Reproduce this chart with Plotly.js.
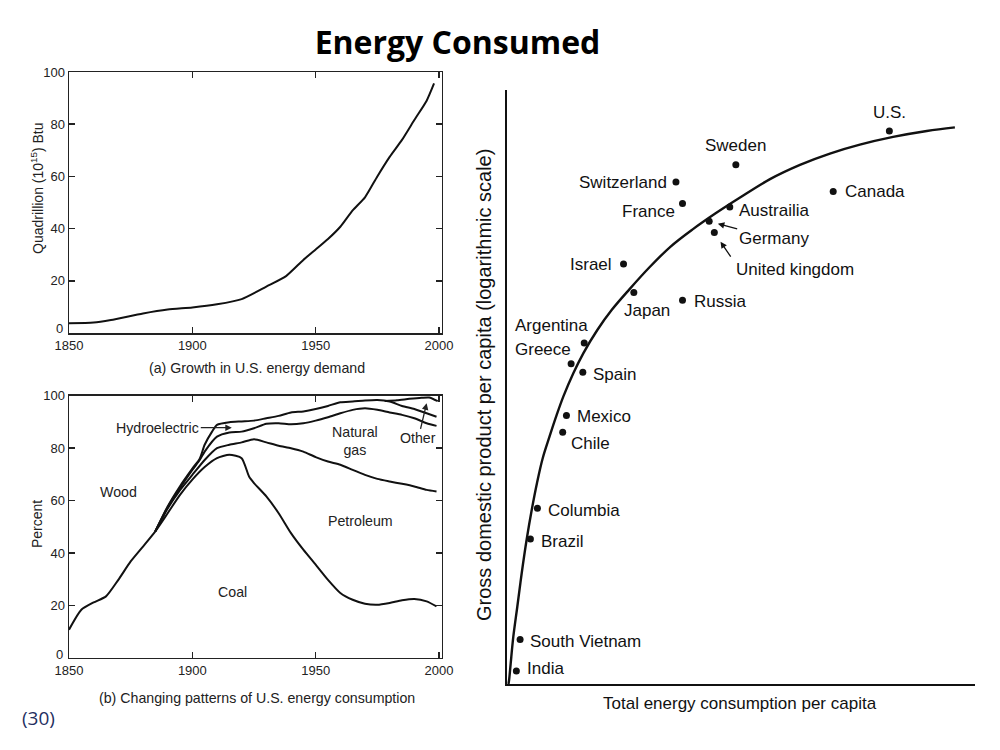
<!DOCTYPE html>
<html>
<head>
<meta charset="utf-8">
<script src="https://cdn.plot.ly/plotly-3.0.1.min.js"></script>
<style>html,body{margin:0;padding:0;background:#fff;}#chart{width:1000px;height:750px;}</style>
</head>
<body>
<div id="chart"></div>
<script>
// ---------- (a) Growth in U.S. energy demand ----------
const demandYears = [1850,1860,1867,1880,1890,1900,1910,1920,1930,1938,1945,1950,1955,1960,1965,1970,1975,1980,1985,1990,1995,1998];
const demandQuads = [3.7,4,5,7.5,9,9.8,11,13,17.8,21.8,28,32,36,40.7,47,52,60,67.5,74,81.6,89,95.6];

// ---------- (b) Changing patterns of U.S. energy consumption (cumulative %) ----------
const coalYears = [1850,1855,1860,1865,1870,1875,1880,1885,1890,1895,1900,1905,1910,1915,1920,1923,1925,1930,1935,1940,1945,1950,1955,1960,1965,1970,1975,1980,1985,1990,1995,1999];
const coalTop   = [10.8,18.4,21.2,23.5,29.8,36.8,42.5,48.3,55.2,62.2,68,72.8,76.2,77.5,76.2,69.2,66.7,61.6,55.2,47.6,41.3,35.6,29.8,24.8,22.2,20.7,20.3,21,22,22.5,21.6,19.7];
const petYears  = [1885,1890,1895,1900,1905,1910,1915,1920,1925,1930,1935,1940,1945,1950,1955,1960,1965,1970,1975,1980,1985,1990,1995,1999];
const petTop    = [48.3,57,64,69.8,75.5,80,81.3,82.2,83.4,82.2,80.9,80,78.7,76.6,74.9,73.7,71.7,69.8,68.3,67.3,66.4,65.4,64.1,63.5];
const gasYears  = [1885,1890,1895,1900,1903,1905,1910,1915,1920,1925,1930,1935,1940,1945,1950,1955,1960,1965,1970,1975,1980,1985,1990,1995,1999];
const gasTop    = [48.3,57.5,64.8,71.7,75.5,78.7,84.4,86,86.3,87.6,89.3,89.5,89.1,89.5,90.5,91.8,93.3,94.6,95.2,94.6,93.6,92.7,91.4,89.5,88.5];
const hydroYears= [1885,1890,1895,1900,1903,1905,1908,1910,1915,1920,1925,1930,1935,1940,1945,1950,1955,1960,1965,1970,1975,1980,1985,1990,1995,1999];
const hydroTop  = [48.3,57.8,65.5,72.2,76,81.3,86.3,88.9,89.9,90.2,90.5,91.4,92.3,93.6,94,94.9,96.1,97.5,97.8,98.2,98.4,97.8,96.1,94.9,93.3,92];
const otherYears= [1978,1983,1988,1993,1996,1999.5];
const otherTop  = [98,98.3,98.8,99.2,99.3,97.9];
const yTicks = [20,40,60,80,100];

// ---------- Right: GDP vs energy per capita (arbitrary units) ----------
const countries = ["U.S.","Sweden","Switzerland","France","Canada","Austrailia","Germany","United kingdom","Israel","Japan","Russia","Argentina","Greece","Spain","Mexico","Chile","Columbia","Brazil","South Vietnam","India"];
const energyPC  = [81.7,48.9,36.1,37.5,69.7,47.6,43.2,44.3,24.9,27.1,37.5,16.5,13.7,16.2,12.7,11.9,6.5,5.0,2.8,2.0];
const gdpPC     = [93.1,87.4,84.5,80.9,82.9,80.3,77.9,76.0,70.7,65.9,64.6,57.4,53.9,52.5,45.2,42.4,29.6,24.4,7.5,2.2];
const trendEnergy = [0.32,0.49,0.79,1.35,2.20,3.14,4.21,5.28,6.41,7.63,9.08,10.62,12.03,14.17,16.30,19.3,22.4,26.1,30.5,34.9,39.6,44.5,49.8,56.2,62.6,69.0,75.4,82.5,89.7,95.7];
const trendGdp    = [0,0.96,3.48,7.96,13.01,18.64,24.36,29.29,33.84,38.0,41.63,45.29,48.37,52.31,55.67,59.6,63.0,66.4,70.2,73.6,76.5,79.2,81.9,85.0,87.4,89.3,90.8,92.1,93.1,93.7];

// label placement (pixel offsets from dot: dx right, dy down; anchor)
const labelPlace = {
  "U.S.":[0,-18,"center"], "Sweden":[0,-19,"center"], "Switzerland":[-7,0,"right"],
  "France":[-6,8.5,"right"], "Canada":[9.5,0,"left"], "Austrailia":[7,3,"left"],
  "Israel":[-9.5,0,"right"],
  "Japan":[13.3,18.4,"center"], "Russia":[9.3,1.7,"left"], "Argentina":[-71,-17.3,"left"],
  "Greece":[-58,-14.4,"left"], "Spain":[8,2,"left"], "Mexico":[8.7,1,"left"], "Chile":[6.6,11,"left"],
  "Columbia":[8.7,2,"left"], "Brazil":[8.7,2.4,"left"], "South Vietnam":[8.3,2.4,"left"], "India":[8.7,-2.7,"left"]
};

const LINE = {color:'#111', width:2, shape:'spline', smoothing:0.6};
const traces = [
  {x:demandYears, y:demandQuads, xaxis:'x', yaxis:'y', mode:'lines', line:LINE},
  {x:coalYears, y:coalTop, xaxis:'x2', yaxis:'y2', mode:'lines', line:LINE},
  {x:petYears, y:petTop, xaxis:'x2', yaxis:'y2', mode:'lines', line:LINE},
  {x:gasYears, y:gasTop, xaxis:'x2', yaxis:'y2', mode:'lines', line:LINE},
  {x:hydroYears, y:hydroTop, xaxis:'x2', yaxis:'y2', mode:'lines', line:LINE},
  {x:otherYears, y:otherTop, xaxis:'x2', yaxis:'y2', mode:'lines', line:LINE},
  {x:trendEnergy, y:trendGdp, xaxis:'x3', yaxis:'y3', mode:'lines', line:{color:'#111', width:2.4, shape:'spline', smoothing:1}},
  {x:energyPC, y:gdpPC, xaxis:'x3', yaxis:'y3', mode:'markers', marker:{color:'#111', size:7}, text:countries, hoverinfo:'text'}
];

const F = 'Liberation Sans, Arial, sans-serif';
const tickFont = {family:F, size:13, color:'#222'};
const lblFont = {family:F, size:14.2, color:'#222'};
const ctyFont = {family:F, size:17, color:'#111'};
function boxAxisX(domain, anchor){
  return {domain:domain, anchor:anchor, range:[1850,2001.1], tickvals:[1850,1900,1950,2000], ticktext:['1850','1900','1950','2000'],
    ticks:'inside', ticklen:6, tickwidth:1.5, tickcolor:'#222', showline:true, linecolor:'#222', linewidth:1.5,
    mirror:'ticks', showgrid:false, zeroline:false, tickfont:tickFont, fixedrange:true};
}
function boxAxisY(domain, anchor){
  return {domain:domain, anchor:anchor, range:[0,100], tickvals:yTicks,
    ticks:'inside', ticklen:6, tickwidth:1.5, tickcolor:'#222', showline:true, linecolor:'#222', linewidth:1.5,
    mirror:'ticks', showgrid:false, zeroline:false, tickfont:tickFont, fixedrange:true};
}
function pp(px,py){ return {x:px/1000, y:1-py/750}; }
function ptext(text, px, py, opts){
  const p = pp(px,py);
  return Object.assign({xref:'paper', yref:'paper', x:p.x, y:p.y, text:text, showarrow:false,
    xanchor:'center', yanchor:'middle', font:lblFont}, opts||{});
}

const annotations = [
  ptext('(a) Growth in U.S. energy demand', 257, 368),
  ptext('(b) Changing patterns of U.S. energy consumption', 257, 698),
  ptext('Quadrillion (10<sup>15</sup>) Btu', 37, 188, {textangle:-90, font:{family:F, size:14, color:'#222'}}),
  ptext('Percent', 37, 524, {textangle:-90, font:{family:F, size:14, color:'#222'}}),
  ptext('Gross domestic product per capita (logarithmic scale)', 484, 385, {textangle:-90, font:{family:F, size:20, color:'#111'}}),
  ptext('Total energy consumption per capita', 740, 703, {font:{family:F, size:17, color:'#111'}}),
  ptext('(30)', 38, 718, {font:{family:'Open Sans, Lato, sans-serif', size:19, color:'#1f2f5f'}}),
  // the "0" tick label of both left panels sits slightly above the corner
  {xref:'x', yref:'y', x:1850, y:0, text:'0', showarrow:false, xanchor:'right', yanchor:'middle', xshift:-4, yshift:5, font:tickFont},
  {xref:'x2', yref:'y2', x:1850, y:0, text:'0', showarrow:false, xanchor:'right', yanchor:'middle', xshift:-4, yshift:4, font:tickFont},
  // region labels in (b)
  {xref:'x2', yref:'y2', x:1869.9, y:63.3, text:'Wood', showarrow:false, font:lblFont},
  {xref:'x2', yref:'y2', x:1968, y:52.2, text:'Petroleum', showarrow:false, font:lblFont},
  {xref:'x2', yref:'y2', x:1916.1, y:25.2, text:'Coal', showarrow:false, font:lblFont},
  {xref:'x2', yref:'y2', x:1966, y:82.7, text:'Natural<br>gas', showarrow:false, font:lblFont},
  {xref:'x2', yref:'y2', x:1995, y:97.1, text:'Other', showarrow:true, ax:-8.4, ay:35, xanchor:'center',
    arrowhead:2, arrowsize:1, arrowwidth:1.3, arrowcolor:'#222', font:lblFont},
  {xref:'x2', yref:'y2', x:1916, y:87.8, text:'Hydroelectric', showarrow:true, ax:-74, ay:0, xanchor:'center',
    arrowhead:2, arrowsize:1, arrowwidth:1.3, arrowcolor:'#222', font:lblFont}
];

// country labels
countries.forEach((c,i)=>{
  const pl = labelPlace[c];
  if(!pl) return;
  annotations.push({xref:'x3', yref:'y3', x:energyPC[i], y:gdpPC[i], text:c, showarrow:false,
    xanchor:pl[2], yanchor:'middle', xshift:pl[0], yshift:-pl[1], font:ctyFont});
});
// Germany label with its arrow; United kingdom label with its own steeper arrow
const gi = countries.indexOf('Germany'), ui = countries.indexOf('United kingdom');
annotations.push({xref:'x3', yref:'y3', x:energyPC[gi], y:gdpPC[gi], text:'Germany', showarrow:true, ax:64.5, ay:17.7, standoff:9,
  xanchor:'center', arrowhead:2, arrowsize:1, arrowwidth:1.3, arrowcolor:'#111', font:ctyFont});
annotations.push({xref:'x3', yref:'y3', x:energyPC[ui], y:gdpPC[ui], text:'United kingdom', showarrow:false,
  xanchor:'left', yanchor:'middle', xshift:19.7, yshift:-36.6, font:ctyFont});
annotations.push({xref:'x3', yref:'y3', x:energyPC[ui], y:gdpPC[ui], text:'', showarrow:true, ax:17.4, ay:25.6, standoff:11,
  arrowhead:2, arrowsize:1, arrowwidth:1.3, arrowcolor:'#111'});

const layout = {
  width:1000, height:750, margin:{l:0,r:0,t:0,b:0}, paper_bgcolor:'#fff', plot_bgcolor:'rgba(0,0,0,0)',
  showlegend:false,
  title:{text:'<b>Energy Consumed</b>', x:0.4575, xanchor:'center', y:1-43/750, yanchor:'middle',
    font:{family:'Open Sans, Lato, sans-serif', size:32, color:'#000'}},
  xaxis: boxAxisX([0.069,0.4417],'y'),
  yaxis: boxAxisY([0.556,0.904],'x'),
  xaxis2: boxAxisX([0.069,0.4417],'y2'),
  yaxis2: boxAxisY([0.12267,0.4724],'x2'),
  xaxis3: {domain:[0.507,0.975], anchor:'y3', range:[0,100], showline:true, linecolor:'#111', linewidth:2,
    showticklabels:false, ticks:'', showgrid:false, zeroline:false, fixedrange:true},
  yaxis3: {domain:[0.088,0.88], anchor:'x3', range:[0,100], showline:true, linecolor:'#111', linewidth:2,
    showticklabels:false, ticks:'', showgrid:false, zeroline:false, fixedrange:true},
  annotations: annotations
};

Plotly.newPlot('chart', traces, layout, {displayModeBar:false, staticPlot:true});
</script>
</body>
</html>
